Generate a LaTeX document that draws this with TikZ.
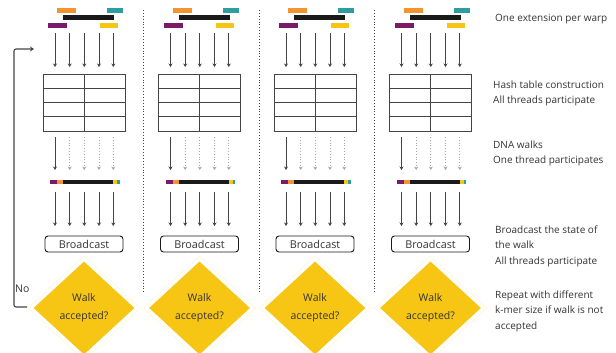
\documentclass[tikz,border=0pt]{standalone}
\usepackage{fontspec}
\setmainfont{Open Sans}
\usetikzlibrary{arrows.meta,shapes.geometric}
\definecolor{lineg}{HTML}{444444}
\definecolor{txt}{HTML}{333333}
\definecolor{korange}{HTML}{F39430}
\definecolor{kteal}{HTML}{2E9DA2}
\definecolor{kpurple}{HTML}{7A1A6A}
\definecolor{kyellow}{HTML}{F7C615}
\definecolor{kblack}{HTML}{1A1A1A}
\tikzset{
  arr/.style={draw=lineg, line width=1pt, -{Stealth[length=3.5pt,width=4pt]}},
  darr/.style={draw=gray!70, line width=0.8pt, dotted, -{Stealth[length=3.5pt,width=4pt]}},
  sarr/.style={draw=lineg, line width=1pt, -{Stealth[length=3.5pt,width=4pt]}},
  tbl/.style={draw=lineg, line width=0.85pt},
  bcast/.style={draw=kblack, line width=0.9pt, rounded corners=3pt, minimum width=78pt, minimum height=16pt, inner sep=0pt, font=\fontsize{10.8}{12}\selectfont, text=txt},
  decide/.style={diamond, fill=kyellow, draw=white, line width=1.5pt, minimum width=104pt, minimum height=96pt, inner sep=0pt, aspect=1.08, align=center, font=\fontsize{10.5}{17.5}\selectfont, text=txt},
  halo/.style={draw=kyellow!20, line width=0.5pt},
  sep/.style={draw=lineg, line width=0.9pt, dotted},
  note/.style={anchor=west, align=left, inner sep=0pt, text=txt, font=\fontsize{10}{15.5}\selectfont},
  bar/.style={inner sep=0pt, outer sep=0pt}
}
\begin{document}
\begin{tikzpicture}[x=1pt,y=-1pt]
\useasboundingbox (0,0) rectangle (616,353);
\foreach \i/\dx in {1/0, 2/115.5, 3/231, 4/346.5} {
  \begin{scope}[xshift=\dx]
    % extension bars
    \fill[korange] (57,8) rectangle (76,12.7);
    \fill[kteal] (107,8) rectangle (123,12.7);
    \fill[kblack] (63,15) rectangle (114,20.5);
    \fill[kpurple] (48,23) rectangle (67,27.7);
    \fill[kyellow] (100,23) rectangle (118,27.7);
    % table
    \node[bar, minimum width=82pt, minimum height=57pt, draw=lineg, line width=0.85pt] (t\i) at (84,102.5) {};
    \draw[tbl] (84,74) -- (84,131);
    \foreach \yy in {88,102,116} { \draw[tbl] (43,\yy) -- (125,\yy); }
    % walk bar
    \fill[kpurple] (50,179.5) rectangle (57,184);
    \fill[korange] (57,179.5) rectangle (63,184);
    \fill[kblack] (63,179.5) rectangle (113,184);
    \fill[kyellow] (113,179.5) rectangle (117,184);
    \fill[kteal] (117,179.5) rectangle (119.5,184);
    % arrows
    \foreach \k/\xx in {1/55,2/69.7,3/84.3,4/99,5/113.3} {
      \coordinate (a\i\k) at (\xx,33);
      \coordinate (b\i\k) at (\xx,67);
      \coordinate (c\i\k) at (\xx,137);
      \coordinate (d\i\k) at (\xx,170);
      \coordinate (e\i\k) at (\xx,192);
      \coordinate (f\i\k) at (\xx,226);
      \draw[arr] (a\i\k) -- (b\i\k);
      \draw[arr] (e\i\k) -- (f\i\k);
    }
    \draw[sarr] (c\i1) -- (d\i1);
    \foreach \k in {2,3,4,5} { \draw[darr] (c\i\k) -- (d\i\k); }
    % broadcast
    \node[bcast] (bc\i) at (84,244) {Broadcast};
    % decision
    \draw[halo] (84,256) -- (140,308) -- (84,360) -- (28,308) -- cycle;
    \node[decide] (w\i) at (84,308) {Walk\\accepted?};
  \end{scope}
}
% separators
\foreach \s/\xx in {1/143.5,2/259,3/374} {
  \coordinate (s\s t) at (\xx,10);
  \coordinate (s\s b) at (\xx,293);
  \draw[sep] (s\s t) -- (s\s b);
}
% feedback
\coordinate (fbl) at (14,307);
\coordinate (fbt) at (14,49);
\coordinate (fbe) at (34,49);
\coordinate (fbs) at (27,307);
\draw[draw=lineg, line width=1.1pt, rounded corners=2pt, -{Stealth[length=4pt,width=5pt]}] (fbs) -- (fbl) -- (fbt) -- (fbe);
\node[anchor=west, inner sep=0pt, text=txt, font=\fontsize{10.5}{12}\selectfont] (no) at (15,289) {No};
% notes
\node[note] (n1) at (495,18.7) {One extension per warp};
\node[note] (n2) at (493,93.5) {Hash table construction\\All threads participate};
\node[note] (n3) at (493,153.5) {DNA walks\\One thread participates};
\node[note] (n4) at (495,246) {Broadcast the state of\\the walk\\All threads participate};
\node[note] (n5) at (495,311) {Repeat with different\\k-mer size if walk is not\\accepted};
\end{tikzpicture}
\end{document}
